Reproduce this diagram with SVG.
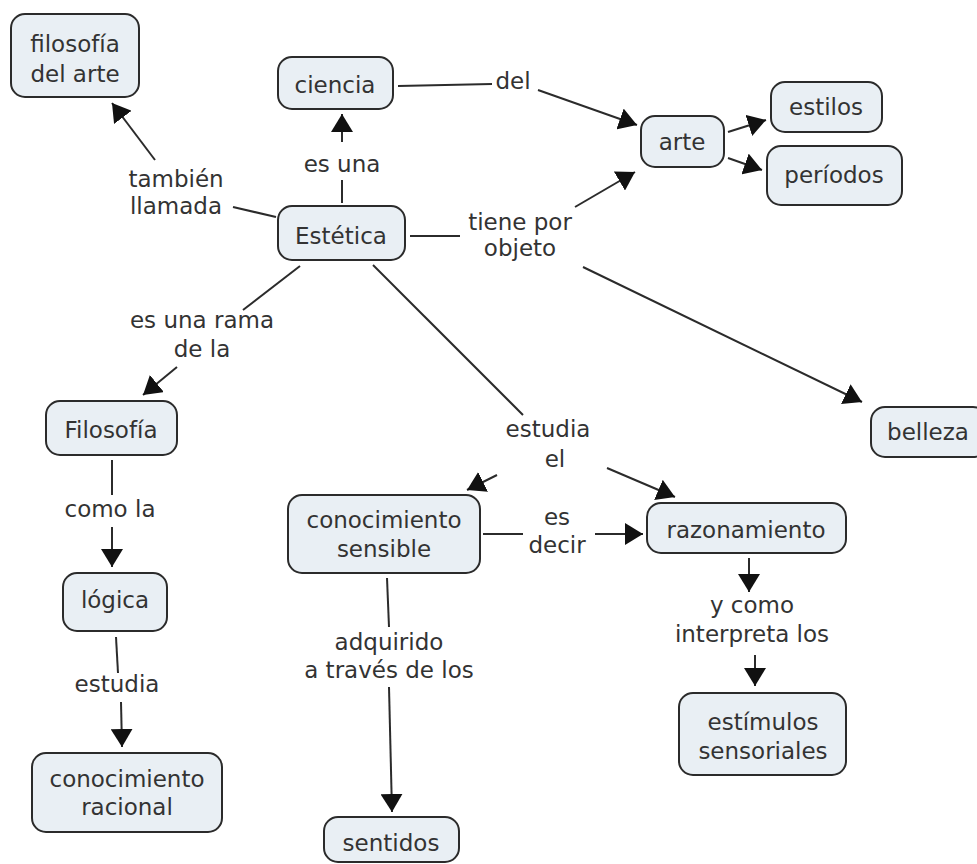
<svg xmlns="http://www.w3.org/2000/svg" width="977" height="864" viewBox="0 0 977 864">
<style>
.n rect{fill:#e9eff4;stroke:#2b2b2b;stroke-width:2}
text{font-family:"DejaVu Sans","Verdana",sans-serif;font-size:23px;fill:#333;text-anchor:middle}
.c line{stroke:#2b2b2b;stroke-width:2}
.c .a{marker-end:url(#ah)}
</style>
<defs>
<marker id="ah" markerWidth="20" markerHeight="22" refX="18" refY="11" orient="auto" markerUnits="userSpaceOnUse">
<path d="M0,0 L18,11 L0,22 z" fill="#111"/>
</marker>
</defs>
<rect width="977" height="864" fill="#fff"/>
<g class="c" id="connectors">
<line x1="276" y1="217" x2="233" y2="207"/>
<line class="a" x1="155" y1="160" x2="112" y2="103"/>
<line x1="342" y1="203" x2="342" y2="180"/>
<line class="a" x1="342" y1="142" x2="342" y2="114"/>
<line x1="398" y1="86" x2="492" y2="84"/>
<line class="a" x1="538" y1="90" x2="637" y2="125"/>
<line x1="410" y1="236" x2="460" y2="236"/>
<line class="a" x1="575" y1="207" x2="635" y2="172"/>
<line class="a" x1="583" y1="267" x2="862" y2="402"/>
<line class="a" x1="728" y1="132" x2="766" y2="120"/>
<line class="a" x1="728" y1="158" x2="762" y2="170"/>
<line x1="300" y1="266" x2="243" y2="310"/>
<line class="a" x1="177" y1="367" x2="143" y2="395"/>
<line x1="112" y1="460" x2="112" y2="495"/>
<line class="a" x1="112" y1="527" x2="112" y2="567"/>
<line x1="116" y1="637" x2="118" y2="673"/>
<line class="a" x1="121" y1="702" x2="122" y2="747"/>
<line x1="373" y1="265" x2="523" y2="415"/>
<line class="a" x1="497" y1="475" x2="467" y2="490"/>
<line class="a" x1="607" y1="468" x2="675" y2="497"/>
<line x1="483" y1="534" x2="523" y2="534"/>
<line class="a" x1="595" y1="534" x2="643" y2="534"/>
<line x1="387" y1="578" x2="389" y2="627"/>
<line class="a" x1="389" y1="687" x2="392" y2="812"/>
<line class="a" x1="749" y1="558" x2="749" y2="592"/>
<line class="a" x1="755" y1="655" x2="755" y2="686"/>
</g>
<g id="labels">
<text x="176" y="187">también</text>
<text x="176" y="214">llamada</text>
<text x="342" y="172">es una</text>
<text x="513" y="89">del</text>
<text x="520" y="230">tiene por</text>
<text x="520" y="256">objeto</text>
<text x="202" y="328">es una rama</text>
<text x="202" y="357">de la</text>
<text x="548" y="437">estudia</text>
<text x="555" y="467">el</text>
<text x="110" y="517">como la</text>
<text x="117" y="692">estudia</text>
<text x="557" y="525">es</text>
<text x="557" y="553">decir</text>
<text x="389" y="650">adquirido</text>
<text x="389" y="678">a través de los</text>
<text x="752" y="613">y como</text>
<text x="752" y="642">interpreta los</text>
</g>
<g class="n" id="n-filosofia-arte"><rect x="11" y="14" width="128" height="83" rx="14"/><text x="75" y="52">filosofía</text><text x="75" y="82">del arte</text></g>
<g class="n" id="n-ciencia"><rect x="278" y="57" width="115" height="52" rx="14"/><text x="335" y="93">ciencia</text></g>
<g class="n" id="n-estetica"><rect x="278" y="206" width="127" height="54" rx="14"/><text x="341" y="244">Estética</text></g>
<g class="n" id="n-arte"><rect x="641" y="116" width="83" height="51" rx="14"/><text x="682" y="150">arte</text></g>
<g class="n" id="n-estilos"><rect x="771" y="82" width="111" height="50" rx="14"/><text x="826" y="115">estilos</text></g>
<g class="n" id="n-periodos"><rect x="767" y="146" width="135" height="59" rx="14"/><text x="834" y="183">períodos</text></g>
<g class="n" id="n-belleza"><rect x="871" y="407" width="116" height="50" rx="14"/><text x="928" y="440">belleza</text></g>
<g class="n" id="n-filosofia"><rect x="46" y="401" width="131" height="54" rx="14"/><text x="111" y="438">Filosofía</text></g>
<g class="n" id="n-logica"><rect x="63" y="573" width="104" height="58" rx="14"/><text x="115" y="608">lógica</text></g>
<g class="n" id="n-racional"><rect x="32" y="753" width="190" height="79" rx="14"/><text x="127" y="787">conocimiento</text><text x="127" y="815">racional</text></g>
<g class="n" id="n-sensible"><rect x="288" y="495" width="192" height="78" rx="14"/><text x="384" y="528">conocimiento</text><text x="384" y="557">sensible</text></g>
<g class="n" id="n-sentidos"><rect x="324" y="817" width="135" height="45" rx="14"/><text x="391" y="851">sentidos</text></g>
<g class="n" id="n-razonamiento"><rect x="647" y="503" width="199" height="50" rx="14"/><text x="746" y="538">razonamiento</text></g>
<g class="n" id="n-estimulos"><rect x="679" y="693" width="167" height="82" rx="14"/><text x="763" y="730">estímulos</text><text x="763" y="759">sensoriales</text></g>
</svg>
